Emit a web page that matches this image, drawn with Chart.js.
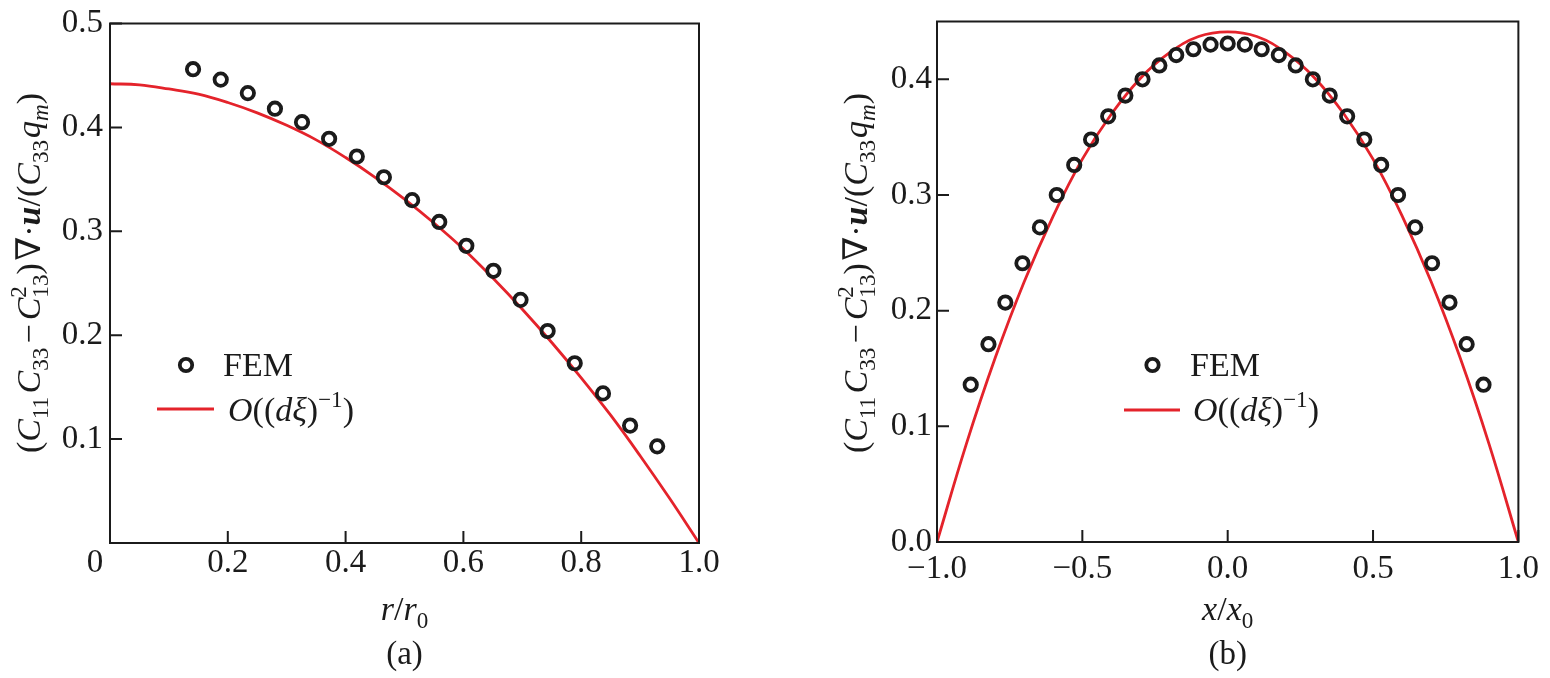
<!DOCTYPE html>
<html>
<head>
<meta charset="utf-8">
<script src="https://cdn.jsdelivr.net/npm/chart.js@4.4.1/dist/chart.umd.min.js"></script>
<style>
  html, body { margin: 0; padding: 0; background: #fff; }
  #wrap { position: relative; width: 1550px; height: 678px; }
  .box { position: absolute; top: 0; width: 775px; height: 678px; }
</style>
</head>
<body>
<div id="wrap">
  <div class="box" style="left:0"><canvas id="chartA"></canvas></div>
  <div class="box" style="left:775px"><canvas id="chartB"></canvas></div>
</div>
<script>
// (a) radial profile, r/r0
const femR = [0.141, 0.188, 0.234, 0.280, 0.326, 0.372, 0.419, 0.465, 0.513, 0.559, 0.605, 0.651, 0.697, 0.743, 0.789, 0.837, 0.883, 0.929];
const femA = [0.456, 0.446, 0.433, 0.418, 0.405, 0.389, 0.372, 0.352, 0.330, 0.309, 0.286, 0.262, 0.234, 0.204, 0.173, 0.144, 0.113, 0.093];
const curveR = [0, 0.05, 0.1, 0.15, 0.2, 0.25, 0.3, 0.35, 0.4, 0.45, 0.5, 0.55, 0.6, 0.65, 0.7, 0.75, 0.8, 0.85, 0.9, 0.95, 1.0];
const curveA = [0.442, 0.441, 0.437, 0.432, 0.424, 0.414, 0.402, 0.388, 0.371, 0.352, 0.331, 0.308, 0.283, 0.255, 0.225, 0.193, 0.159, 0.123, 0.084, 0.043, 0.000];
const xTicksA = [0, 0.2, 0.4, 0.6, 0.8, 1.0];
const yTicksA = [0.1, 0.2, 0.3, 0.4, 0.5];

// (b) profile across the strip, x/x0
const femX = [-0.884, -0.823, -0.765, -0.706, -0.646, -0.588, -0.528, -0.470, -0.411, -0.352, -0.293, -0.235, -0.177, -0.118, -0.059, 0.000,
              0.059, 0.117, 0.176, 0.234, 0.293, 0.351, 0.411, 0.470, 0.528, 0.586, 0.645, 0.703, 0.763, 0.822, 0.880];
const femB = [0.136, 0.171, 0.207, 0.241, 0.272, 0.300, 0.326, 0.348, 0.368, 0.386, 0.400, 0.412, 0.421, 0.426, 0.430, 0.431,
              0.430, 0.426, 0.421, 0.412, 0.400, 0.386, 0.368, 0.348, 0.326, 0.300, 0.272, 0.241, 0.207, 0.171, 0.136];
const curveX = [-1.0, -0.9, -0.8, -0.7, -0.6, -0.5, -0.4, -0.3, -0.2, -0.1, 0, 0.1, 0.2, 0.3, 0.4, 0.5, 0.6, 0.7, 0.8, 0.9, 1.0];
const curveB = [0.000, 0.084, 0.159, 0.225, 0.282, 0.331, 0.370, 0.401, 0.423, 0.437, 0.441, 0.437, 0.423, 0.401, 0.370, 0.331, 0.282, 0.225, 0.159, 0.084, 0.000];
const xTicksB = [-1.0, -0.5, 0.0, 0.5, 1.0];
const yTicksB = [0.0, 0.1, 0.2, 0.3, 0.4];

const INK = '#1b1b1b';
const RED = '#e4232b';
const FAM = '"Liberation Serif", "DejaVu Serif", serif';

function fontFor(f, px) {
  if (f === 'i') return 'italic ' + px + 'px ' + FAM;
  if (f === 'b') return 'italic bold ' + px + 'px ' + FAM;
  return px + 'px ' + FAM;
}

// draws a run of mixed italic / upright / sub / sup pieces
function drawRich(ctx, parts, x, y, size, align) {
  const items = [];
  let w = 0;
  for (const p of parts) {
    if (p.gap) { w += p.gap * size; continue; }
    if (p.stack) {
      const f = fontFor('r', size * 0.68);
      ctx.font = f;
      const w1 = ctx.measureText(p.stack[0]).width;
      const w2 = ctx.measureText(p.stack[1]).width;
      items.push({ t: p.stack[0], font: f, x: w, dy: -0.42 * size });
      items.push({ t: p.stack[1], font: f, x: w, dy: 0.24 * size });
      w += Math.max(w1, w2);
      continue;
    }
    const s = (p.sub || p.sup) ? size * 0.68 : size;
    const f = fontFor(p.f, s);
    ctx.font = f;
    const pad = (p.pad || 0) * size;
    w += pad;
    items.push({ t: p.t, font: f, x: w, dy: p.sub ? 0.24 * size : (p.sup ? -0.42 * size : 0) });
    w += ctx.measureText(p.t).width + pad;
  }
  const x0 = align === 'center' ? x - w / 2 : x;
  ctx.textAlign = 'left';
  ctx.textBaseline = 'alphabetic';
  ctx.fillStyle = INK;
  for (const it of items) {
    ctx.font = it.font;
    ctx.fillText(it.t, x0 + it.x, y + it.dy);
  }
}

const yTitle = [
  { t: '(', f: 'r' },
  { t: 'C', f: 'i' }, { t: '11', f: 'r', sub: 1 },
  { gap: 0.1 },
  { t: 'C', f: 'i' }, { t: '33', f: 'r', sub: 1 },
  { t: '−', f: 'r', pad: 0.12 },
  { t: 'C', f: 'i' }, { stack: ['2', '13'] },
  { t: ')', f: 'r' },
  { gap: 0.08 },
  { t: '∇', f: 'r' },
  { t: '·', f: 'r' },
  { t: 'u', f: 'b' },
  { t: '/', f: 'r' },
  { t: '(', f: 'r' },
  { t: 'C', f: 'i' }, { t: '33', f: 'r', sub: 1 },
  { gap: 0.06 },
  { t: 'q', f: 'i' }, { t: 'm', f: 'i', sub: 1 },
  { t: ')', f: 'r' }
];
const legendCurve = [
  { t: 'O', f: 'i' }, { t: '((', f: 'r' }, { t: 'd', f: 'i' }, { t: 'ξ', f: 'i' },
  { t: ')', f: 'r' }, { t: '−1', f: 'r', sup: 1 }, { t: ')', f: 'r' }
];

const framePlugin = {
  id: 'frame',
  afterDatasetsDraw(chart, args, o) {
    const ctx = chart.ctx;
    const a = chart.chartArea;
    ctx.save();
    ctx.strokeStyle = INK;
    ctx.lineWidth = 2;
    // inward tick marks
    const xs = chart.scales.x, ys = chart.scales.y;
    ctx.beginPath();
    xs.ticks.forEach(t => {
      const px = xs.getPixelForValue(t.value);
      ctx.moveTo(px, a.bottom);
      ctx.lineTo(px, a.bottom - 12);
    });
    ys.ticks.forEach(t => {
      const py = ys.getPixelForValue(t.value);
      ctx.moveTo(a.left, py);
      ctx.lineTo(a.left + 12, py);
    });
    ctx.stroke();
    ctx.strokeRect(a.left, a.top, a.right - a.left, a.bottom - a.top);

    // legend
    const L = o.legend;
    ctx.beginPath();
    ctx.lineWidth = 3.8;
    ctx.arc(a.left + L.mx, L.my, 6.2, 0, Math.PI * 2);
    ctx.stroke();
    ctx.beginPath();
    ctx.strokeStyle = RED;
    ctx.lineWidth = 2.8;
    ctx.moveTo(a.left + L.lx1, L.ly);
    ctx.lineTo(a.left + L.lx2, L.ly);
    ctx.stroke();
    drawRich(ctx, [{ t: 'FEM', f: 'r' }], a.left + L.tx1, 376, 34, 'left');
    drawRich(ctx, legendCurve, a.left + L.tx2, 421, 34, 'left');

    // axis titles and caption
    const cx = (a.left + a.right) / 2;
    drawRich(ctx, o.xTitle, cx, 620, 34, 'center');
    drawRich(ctx, [{ t: o.caption, f: 'r' }], cx, 664, 33, 'center');
    ctx.save();
    ctx.translate(a.left - 70, 273);
    ctx.rotate(-Math.PI / 2);
    drawRich(ctx, yTitle, 0, 0, 34, 'center');
    ctx.restore();

    if (o.zeroLabel) {
      ctx.font = fontFor('r', 33);
      ctx.fillStyle = INK;
      ctx.textAlign = 'center';
      ctx.textBaseline = 'middle';
      ctx.fillText('0', xs.getPixelForValue(0) - 15, a.bottom + o.xPad + 16.5);
    }
    ctx.restore();
  }
};

function fmt(v) {
  return v.toFixed(1).replace('-', '−');
}

function makeChart(id, cfg) {
  const tickFont = { family: FAM, size: 33, lineHeight: 1 };
  return new Chart(document.getElementById(id), {
    type: 'scatter',
    data: {
      datasets: [
        {
          label: 'FEM',
          data: cfg.fx.map((x, i) => ({ x: x, y: cfg.fy[i] })),
          pointStyle: 'circle',
          pointRadius: 6.2,
          pointBorderWidth: 3.8,
          pointBorderColor: INK,
          pointBackgroundColor: 'rgba(0,0,0,0)',
          showLine: false
        },
        {
          label: 'O((dξ)−1)',
          data: cfg.cx.map((x, i) => ({ x: x, y: cfg.cy[i] })),
          showLine: true,
          borderColor: RED,
          borderWidth: 2.8,
          pointRadius: 0,
          tension: 0.4
        }
      ]
    },
    options: {
      responsive: true,
      maintainAspectRatio: false,
      devicePixelRatio: 1,
      animation: false,
      events: [],
      layout: { padding: cfg.pad },
      plugins: {
        legend: { display: false },
        tooltip: { enabled: false },
        frame: cfg.frame
      },
      scales: {
        x: {
          type: 'linear',
          min: cfg.xr[0], max: cfg.xr[1],
          afterBuildTicks: s => { s.ticks = cfg.xt.map(v => ({ value: v })); },
          afterFit: s => { s.height = cfg.xh; },
          ticks: {
            font: tickFont, color: INK, padding: cfg.frame.xPad, maxRotation: 0, autoSkip: false,
            callback: v => (cfg.frame.zeroLabel && v === 0) ? '' : fmt(v)
          },
          grid: { display: false, drawTicks: false },
          border: { display: false }
        },
        y: {
          type: 'linear',
          min: cfg.yr[0], max: cfg.yr[1],
          afterBuildTicks: s => { s.ticks = cfg.yt.map(v => ({ value: v })); },
          afterFit: s => { s.width = cfg.yw; },
          ticks: { font: tickFont, color: INK, padding: cfg.yPad, autoSkip: false, callback: v => fmt(v) },
          grid: { display: false, drawTicks: false },
          border: { display: false }
        }
      }
    },
    plugins: [framePlugin]
  });
}

makeChart('chartA', {
  fx: femR, fy: femA, cx: curveR, cy: curveA,
  xr: [0, 1], yr: [0, 0.5], xt: xTicksA, yt: yTicksA,
  pad: { top: 19, right: 76, left: 0, bottom: 0 },
  xh: 135, yw: 110, yPad: 7,
  frame: {
    xTitle: [{ t: 'r', f: 'i' }, { t: '/', f: 'r' }, { t: 'r', f: 'i' }, { t: '0', f: 'r', sub: 1 }],
    caption: '(a)', zeroLabel: true, xPad: 4,
    legend: { mx: 76, my: 365, lx1: 47, lx2: 104, ly: 409, tx1: 113, tx2: 118 }
  }
});

makeChart('chartB', {
  fx: femX, fy: femB, cx: curveX, cy: curveB,
  xr: [-1, 1], yr: [0, 0.45], xt: xTicksB, yt: yTicksB,
  pad: { top: 17, right: 24, left: 0, bottom: 0 },
  xh: 136, yw: 162, yPad: 5,
  frame: {
    xTitle: [{ t: 'x', f: 'i' }, { t: '/', f: 'r' }, { t: 'x', f: 'i' }, { t: '0', f: 'r', sub: 1 }],
    caption: '(b)', zeroLabel: false, xPad: 11,
    legend: { mx: 215.5, my: 365, lx1: 187, lx2: 243, ly: 410, tx1: 253, tx2: 256 }
  }
});
</script>
</body>
</html>
